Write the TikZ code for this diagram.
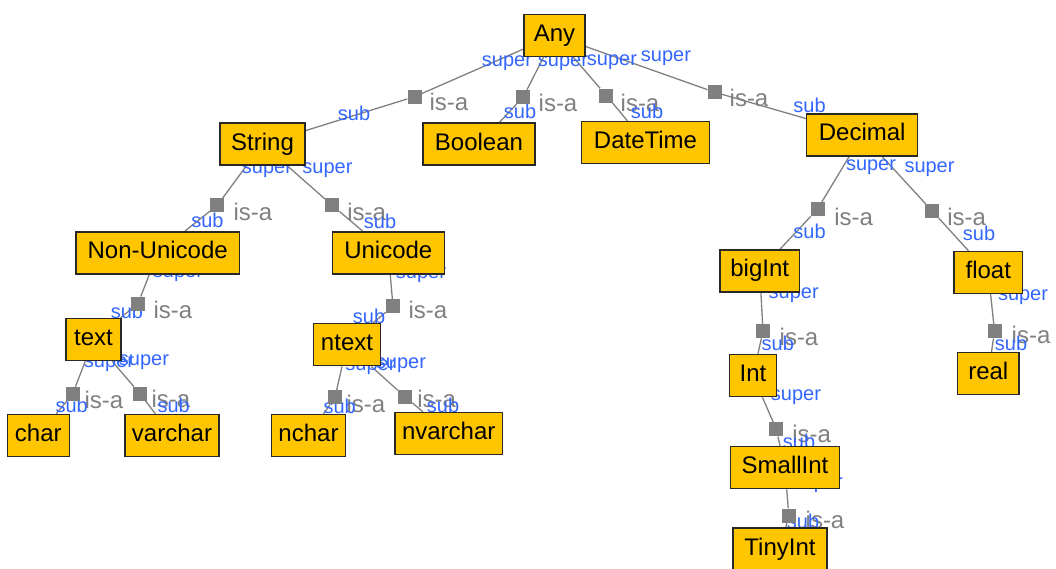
\documentclass[tikz,border=0pt]{standalone}
\usepackage{fontspec}
\setmainfont{Liberation Sans}
\pgfdeclarelayer{back}
\pgfsetlayers{back,main}
\definecolor{boxfill}{RGB}{255,198,0}
\definecolor{boxline}{RGB}{40,40,40}
\definecolor{linkgray}{RGB}{128,128,128}
\definecolor{roleblue}{RGB}{51,102,255}
\tikzset{
  typebox/.style={rectangle, fill=boxfill, draw=boxline, line width=1.4pt,
    minimum height=42pt, inner xsep=2pt, inner ysep=0pt,
    text height=17pt, text depth=5pt,
    font=\fontsize{24}{28}\selectfont},
  link/.style={draw=linkgray, line width=1.3pt},
  joint/.style={rectangle, fill=linkgray, minimum size=14pt, inner sep=0pt},
  isa/.style={anchor=base, yshift=-7pt, inner sep=0pt, text=linkgray,
    font=\fontsize{24}{28}\selectfont},
  role/.style={anchor=base, yshift=-5.5pt, inner sep=0pt, text=roleblue,
    font=\fontsize{20}{24}\selectfont},
}
\begin{document}
\begin{tikzpicture}[x=1pt, y=-1pt]
\useasboundingbox (0,0) rectangle (1056,568);

% type boxes
\node[typebox, minimum width=61pt]    (any)   at (554.5,35.5) {Any};
\node[typebox, minimum width=85pt]    (str)   at (262.5,144)  {String};
\node[typebox, minimum width=112pt]   (bool)  at (479,144)    {Boolean};
\node[typebox, minimum width=127.6pt] (dt)    at (645.5,142.5){DateTime};
\node[typebox, minimum width=111pt]   (dec)   at (862.2,134.8){Decimal};
\node[typebox, minimum width=163.3pt] (nonu)  at (157.7,252.8){Non-Unicode};
\node[typebox, minimum width=112pt]   (uni)   at (388.3,252.8){Unicode};
\node[typebox, minimum width=55pt]    (txt)   at (93.5,339.5) {text};
\node[typebox, minimum width=67.4pt]  (ntxt)  at (347,344.7)  {ntext};
\node[typebox, minimum width=62pt]    (chr)   at (38.3,435.5) {char};
\node[typebox, minimum width=94.3pt]  (vch)   at (172,435.5)  {varchar};
\node[typebox, minimum width=74.4pt]  (nch)   at (308.5,435.5){nchar};
\node[typebox, minimum width=107.3pt] (nvch)  at (448.7,433.5){nvarchar};
\node[typebox, minimum width=79.3pt]  (big)   at (759.7,270.8){bigInt};
\node[typebox, minimum width=68.7pt]  (flt)   at (988.3,272.5){float};
\node[typebox, minimum width=47.4pt]  (int)   at (753,375.7)  {Int};
\node[typebox, minimum width=61.3pt]  (real)  at (988.3,373.7){real};
\node[typebox, minimum width=108.6pt] (small) at (785,467.7)  {SmallInt};
\node[typebox, minimum width=94pt]    (tiny)  at (780,549)    {TinyInt};

% is-a joints
\node[joint] (s1)  at (414.5,96.7) {};
\node[joint] (s2)  at (523.3,97)   {};
\node[joint] (s3)  at (606.3,95.5) {};
\node[joint] (s4)  at (714.7,92.2) {};
\node[joint] (s5)  at (217.3,205.3){};
\node[joint] (s6)  at (332.2,205.3){};
\node[joint] (s7)  at (138,303.7)  {};
\node[joint] (s8)  at (393,306.2)  {};
\node[joint] (s9)  at (72.7,394)   {};
\node[joint] (s10) at (140,393.7)  {};
\node[joint] (s11) at (335,397.3)  {};
\node[joint] (s12) at (405,396.7)  {};
\node[joint] (s13) at (817.5,209.2){};
\node[joint] (s14) at (932.2,211)  {};
\node[joint] (s15) at (763,331.2)  {};
\node[joint] (s16) at (994.5,331.2){};
\node[joint] (s17) at (776.3,429.2){};
\node[joint] (s18) at (788.8,515.5){};

\begin{pgfonlayer}{back}
% links: super type -- joint -- sub type
\draw[link] (any)  -- (s1)  -- (str);
\draw[link] (any)  -- (s2)  -- (bool);
\draw[link] (any)  -- (s3)  -- (dt);
\draw[link] (any)  -- (s4)  -- (dec);
\draw[link] (str)  -- (s5)  -- (nonu);
\draw[link] (str)  -- (s6)  -- (uni);
\draw[link] (nonu) -- (s7)  -- (txt);
\draw[link] (uni)  -- (s8)  -- (ntxt);
\draw[link] (txt)  -- (s9)  -- (chr);
\draw[link] (txt)  -- (s10) -- (vch);
\draw[link] (ntxt) -- (s11) -- (nch);
\draw[link] (ntxt) -- (s12) -- (nvch);
\draw[link] (dec)  -- (s13) -- (big);
\draw[link] (dec)  -- (s14) -- (flt);
\draw[link] (big)  -- (s15) -- (int);
\draw[link] (flt)  -- (s16) -- (real);
\draw[link] (int)  -- (s17) -- (small);
\draw[link] (small)-- (s18) -- (tiny);

% is-a labels
\node[isa] (i1)  at (449,103)    {is-a};
\node[isa] (i2)  at (558,104)    {is-a};
\node[isa] (i3)  at (640,104)    {is-a};
\node[isa] (i4)  at (749,99)     {is-a};
\node[isa] (i5)  at (253,213)    {is-a};
\node[isa] (i6)  at (366.7,213.3){is-a};
\node[isa] (i7)  at (173,311.7)  {is-a};
\node[isa] (i8)  at (428,311.7)  {is-a};
\node[isa] (i9)  at (104,401.7)  {is-a};
\node[isa] (i10) at (171,400)    {is-a};
\node[isa] (i11) at (366,405)    {is-a};
\node[isa] (i12) at (436.7,400)  {is-a};
\node[isa] (i13) at (853.7,218.3){is-a};
\node[isa] (i14) at (966.7,218.3){is-a};
\node[isa] (i15) at (799,338.3)  {is-a};
\node[isa] (i16) at (1031,336.7) {is-a};
\node[isa] (i17) at (811.7,435)  {is-a};
\node[isa] (i18) at (825,521.7)  {is-a};

% role labels at the super end
\node[role] (p1)  at (507,61)     {super};
\node[role] (p2)  at (563,61)     {super};
\node[role] (p3)  at (612,60)     {super};
\node[role] (p4)  at (666,56)     {super};
\node[role] (p5)  at (267,168)    {super};
\node[role] (p6)  at (327.5,168)  {super};
\node[role] (p7)  at (178,272)    {super};
\node[role] (p8)  at (421,273)    {super};
\node[role] (p9)  at (109,361.7)  {super};
\node[role] (p10) at (144,360)    {super};
\node[role] (p11) at (370.5,365)  {super};
\node[role] (p12) at (401,363)    {super};
\node[role] (p13) at (871,165)    {super};
\node[role] (p14) at (929.5,166.7){super};
\node[role] (p15) at (793.7,293.3){super};
\node[role] (p16) at (1023,295)   {super};
\node[role] (p17) at (796,395)    {super};
\node[role] (p18) at (817.7,483.3){super};

% role labels at the sub end
\node[role] (b1)  at (354,115)    {sub};
\node[role] (b2)  at (520,113)    {sub};
\node[role] (b3)  at (647,113)    {sub};
\node[role] (b4)  at (809.5,106.7){sub};
\node[role] (b5)  at (207.5,221.7){sub};
\node[role] (b6)  at (380,222.7)  {sub};
\node[role] (b7)  at (127,313)    {sub};
\node[role] (b8)  at (369,318)    {sub};
\node[role] (b9)  at (71.7,406.7) {sub};
\node[role] (b10) at (173.7,407.3){sub};
\node[role] (b11) at (339.7,408.3){sub};
\node[role] (b12) at (443,406.7)  {sub};
\node[role] (b13) at (809.5,233.3){sub};
\node[role] (b14) at (979,235)    {sub};
\node[role] (b15) at (777.8,345)  {sub};
\node[role] (b16) at (1011,345)   {sub};
\node[role] (b17) at (799,442.7)  {sub};
\node[role] (b18) at (803,523.3)  {sub};
\end{pgfonlayer}
\end{tikzpicture}
\end{document}
